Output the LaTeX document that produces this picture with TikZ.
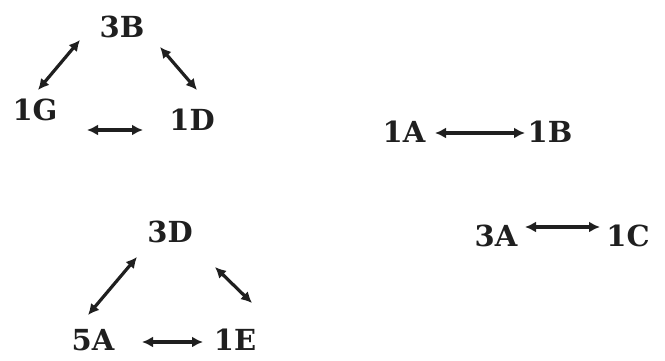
\documentclass[tikz,border=0pt]{standalone}
\usepackage{fontspec}
\setmainfont{DejaVu Serif}
\usetikzlibrary{arrows.meta}
\begin{document}
\begin{tikzpicture}[x=1pt,y=1pt,
  lbl/.style={font=\fontsize{29}{30}\selectfont\bfseries, inner sep=0pt, text=black!88},
  arr/.style={line width=3.2pt, draw=black!88, {Latex[length=11pt,width=11pt]}-{Latex[length=11pt,width=11pt]}}]
\useasboundingbox (0,0) rectangle (665,361);
\node[lbl] (n3B) at (122,334) {3B};
\node[lbl] (n1G) at (35,251) {1G};
\node[lbl] (n1D) at (192,241) {1D};
\node[lbl] (n3D) at (170,129) {3D};
\node[lbl] (n5A) at (93,21) {5A};
\node[lbl] (n1E) at (235,21) {1E};
\node[lbl] (n1A) at (404,229) {1A};
\node[lbl] (n1B) at (550,229) {1B};
\node[lbl] (n3A) at (496,125) {3A};
\node[lbl] (n1C) at (628,125) {1C};
\draw[arr] ([shift={(-42,-13)}]n3B.center) -- ([shift={(3,20)}]n1G.center);
\draw[arr] ([shift={(38,-20)}]n3B.center) -- ([shift={(5,30)}]n1D.center);
\draw[arr] ([shift={(52,-20)}]n1G.center) -- ([shift={(-49,-10)}]n1D.center);
\draw[arr] ([shift={(-33,-25)}]n3D.center) -- ([shift={(-5,25)}]n5A.center);
\draw[arr] ([shift={(45,-35)}]n3D.center) -- ([shift={(17,37)}]n1E.center);
\draw[arr] ([shift={(49,-2)}]n5A.center) -- ([shift={(-32,-2)}]n1E.center);
\draw[arr] ([shift={(31,-1)}]n1A.center) -- ([shift={(-25,-1)}]n1B.center);
\draw[arr] ([shift={(29,9)}]n3A.center) -- ([shift={(-28,9)}]n1C.center);
\end{tikzpicture}
\end{document}
